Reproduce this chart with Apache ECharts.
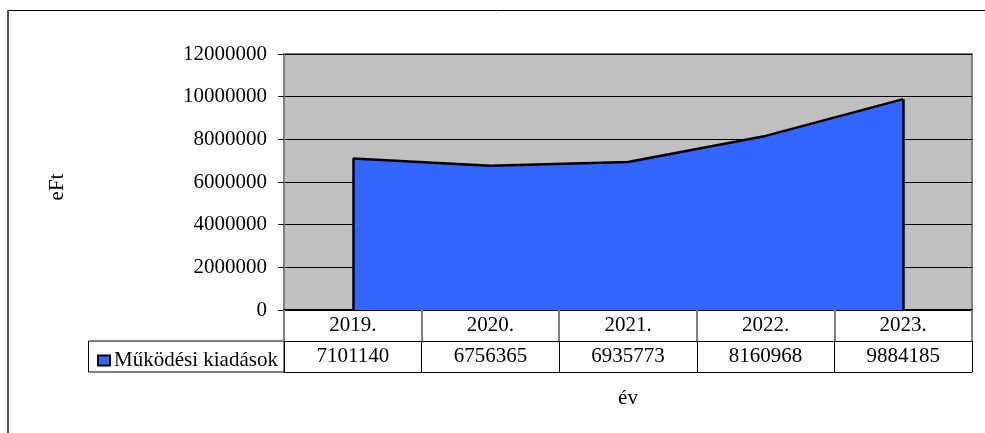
<!DOCTYPE html>
<html>
<head>
<meta charset="utf-8">
<script src="https://cdn.jsdelivr.net/npm/echarts@6/dist/echarts.min.js"></script>
<style>html,body{margin:0;padding:0;background:#fff}#c{width:985px;height:433px}</style>
</head>
<body>
<div id="c"></div>
<script>
const categories = ['2019.', '2020.', '2021.', '2022.', '2023.'];
const seriesName = 'Működési kiadások';
const values = [7101140, 6756365, 6935773, 8160968, 9884185];
const yMin = 0, yMax = 12000000, yStep = 2000000;
const yTitle = 'eFt';
const xTitle = 'év';

const FONT = 'Liberation Serif';
const FS = 21;
const chart = echarts.init(document.getElementById('c'), null, {renderer: 'canvas'});
const last = values.length - 1;

chart.setOption({
  animation: false,
  backgroundColor: '#fff',
  textStyle: {fontFamily: FONT, color: '#000'},
  grid: {left: 284, right: 13, top: 54, bottom: 123, show: true, backgroundColor: '#c0c0c0', borderColor: '#808080', borderWidth: 2},
  legend: {
    left: 92, top: 345, icon: 'rect', itemWidth: 12, itemHeight: 10, itemGap: 4,
    textStyle: {fontFamily: FONT, fontSize: FS, color: '#000', padding: [0,0,0,-1]},
    data: [{name: seriesName, itemStyle: {color: '#3366ff', borderColor: '#000', borderWidth: 2}}]
  },
  xAxis: [
    {type: 'category', data: categories, boundaryGap: true, position: 'bottom',
     axisLine: {show: true, lineStyle: {color: '#000', width: 2}},
     axisTick: {show: true, length: 31, lineStyle: {color: '#808080', width: 2}},
     axisLabel: {fontFamily: FONT, fontSize: FS, color: '#000', margin: 5},
     splitLine: {show: false}},
    {type: 'category', data: categories, boundaryGap: true, position: 'bottom', offset: 31,
     axisLine: {show: true, lineStyle: {color: '#000', width: 1}},
     axisTick: {show: true, length: 31, lineStyle: {color: '#000', width: 1}},
     axisLabel: {fontFamily: FONT, fontSize: FS, color: '#000', margin: 5, formatter: (v, i) => String(values[i])},
     splitLine: {show: false}},
    {type: 'category', data: categories, boundaryGap: true, position: 'bottom', offset: 62,
     axisLine: {show: true, lineStyle: {color: '#000', width: 1}},
     axisTick: {show: false}, axisLabel: {show: false},
     name: xTitle, nameLocation: 'middle', nameGap: 16,
     nameTextStyle: {fontFamily: FONT, fontSize: FS, color: '#000', verticalAlign: 'top'},
     splitLine: {show: false}}
  ],
  yAxis: {
    type: 'value', min: yMin, max: yMax, interval: yStep,
    name: yTitle, nameLocation: 'middle', nameGap: 216, nameRotate: 90,
    nameTextStyle: {fontFamily: FONT, fontSize: FS, color: '#000', padding: [0, 10, 0, 0]},
    axisLine: {show: true, lineStyle: {color: '#808080', width: 2}},
    axisTick: {show: true, length: 6, lineStyle: {color: '#000'}},
    axisLabel: {fontFamily: FONT, fontSize: FS, color: '#000', margin: 17, formatter: v => String(v)},
    splitLine: {show: true, lineStyle: {color: '#000', width: 1}}
  },
  series: [{
    name: seriesName, type: 'line', xAxisIndex: 0, data: values,
    symbol: 'none', smooth: false,
    lineStyle: {color: '#000', width: 2.5},
    areaStyle: {color: '#3366ff', opacity: 1},
    itemStyle: {color: '#3366ff'},
    z: 3,
    markLine: {
      silent: true, symbol: ['none', 'none'], label: {show: false},
      lineStyle: {color: '#000', width: 2.5, type: 'solid'},
      data: [
        [{coord: [categories[0], yMin]}, {coord: [categories[0], values[0]]}],
        [{coord: [categories[last], yMin]}, {coord: [categories[last], values[last]]}]
      ]
    }
  }],
  graphic: [
    {type: 'line', shape: {x1: 8, y1: 10.5, x2: 985, y2: 10.5}, style: {stroke: '#000', lineWidth: 1}},
    {type: 'line', shape: {x1: 8, y1: 10, x2: 8, y2: 433}, style: {stroke: '#555', lineWidth: 2}},
    {type: 'rect', shape: {x: 88.5, y: 341, width: 195.5, height: 31}, style: {fill: 'none', stroke: '#000', lineWidth: 1}}
  ]
});
</script>
</body>
</html>
